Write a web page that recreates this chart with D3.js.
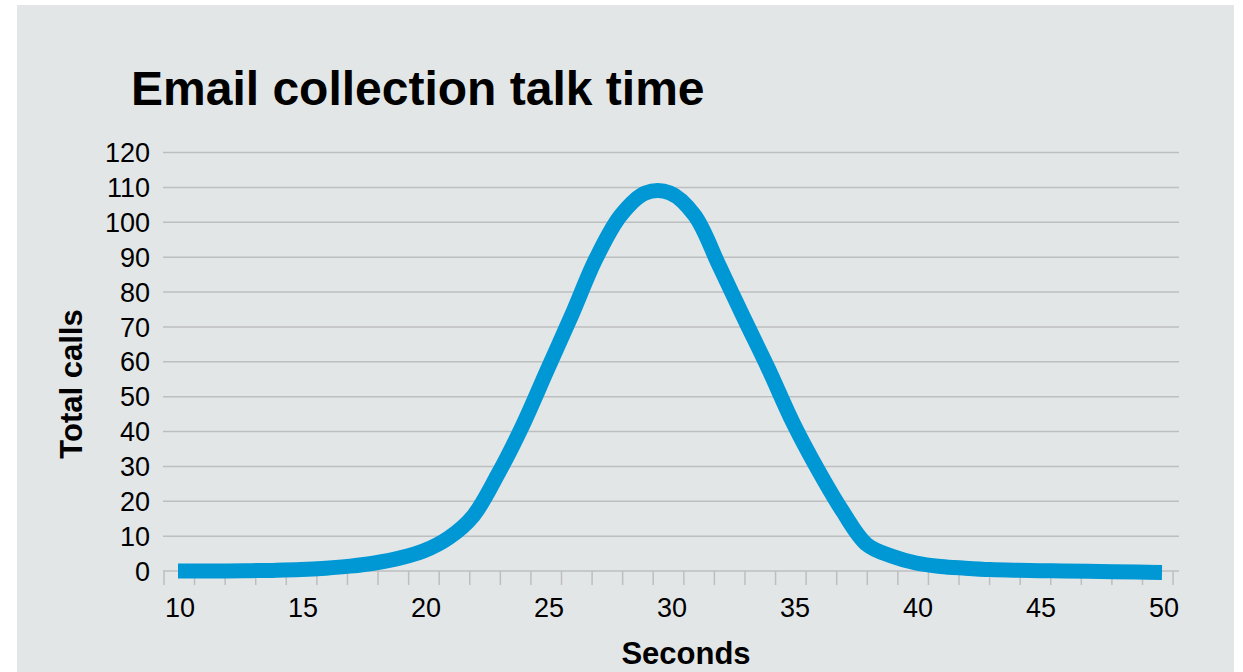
<!DOCTYPE html>
<html>

<head>
	<meta charset="utf-8">
	<script src="https://cdn.jsdelivr.net/npm/d3@7"></script>
	<style>
		body {
			margin: 0;
			background: #fff;
		}

		text {
			font-family: "Liberation Sans", Arial, sans-serif;
			fill: #000;
		}

		.grid line {
			stroke: #bcbec0;
			stroke-width: 1.5;
		}

		.line {
			fill: none;
			stroke: #0097d5;
			stroke-width: 15;
		}
	</style>
</head>

<body>
	<svg></svg>
	<script>
		// seconds of talk time
		var seconds = [10, 11, 12, 13, 14, 15, 16, 17, 18, 19, 20, 21, 22, 23, 24, 25, 26, 27, 28, 29,
			30, 31, 32, 33, 34, 35, 36, 37, 38, 39, 40, 41, 42, 43, 44, 45, 46, 47, 48, 49, 50];
		// total calls
		var calls = [0, 0, 0, 0.1, 0.2, 0.4, 0.8, 1.4, 2.3, 3.7, 5.8, 9.5, 15.8, 27.7, 41.6, 57.5, 73.3, 89.7, 102, 108.4,
			108.4, 102, 87.5, 72.6, 58, 42.5, 29.2, 17.3, 7.6, 4.3, 2.3, 1.3, 0.8, 0.4, 0.2, 0.1, 0, -0.1, -0.2, -0.3, -0.4];
		var yTicks = [0, 10, 20, 30, 40, 50, 60, 70, 80, 90, 100, 110, 120];
		var xTicks = [10, 15, 20, 25, 30, 35, 40, 45, 50];

		var width = 1243;
		var height = 672;

		var svg = d3.select('svg')
			.attr("width", width)
			.attr("height", height);

		svg.append("rect")
			.attr("x", 17)
			.attr("y", 5)
			.attr("width", 1217)
			.attr("height", height - 5)
			.attr("fill", "#e3e6e7");

		var x = d3.scaleLinear()
			.domain([10, 50])
			.range([178, 1162]);
		var y = d3.scaleLinear()
			.domain([0, 120])
			.range([571, 152.5]);

		// axis extent and minor ticks (not aligned with the labels in the original)
		var axisStart = 9.39, axisEnd = 50.69;
		var minorStart = 9.43, minorEnd = 50.45, minorCount = 34;
		var minor = d3.range(minorCount).map(i => minorStart + (minorEnd - minorStart) * i / (minorCount - 1));

		svg.append("g")
			.attr("class", "grid")
			.selectAll("line")
			.data(yTicks)
			.enter()
			.append("line")
			.attr("x1", x(axisStart))
			.attr("x2", x(axisEnd))
			.attr("y1", d => y(d))
			.attr("y2", d => y(d));

		svg.append("g")
			.attr("class", "grid")
			.selectAll("line")
			.data(minor)
			.enter()
			.append("line")
			.attr("x1", d => x(d))
			.attr("x2", d => x(d))
			.attr("y1", y(0))
			.attr("y2", y(0) + 14);

		svg.append("g")
			.selectAll("text")
			.data(yTicks)
			.enter()
			.append("text")
			.attr("x", 150)
			.attr("y", d => y(d))
			.attr("dy", "0.36em")
			.attr("text-anchor", "end")
			.attr("font-size", 27)
			.text(d => d);

		svg.append("g")
			.selectAll("text")
			.data(xTicks)
			.enter()
			.append("text")
			.attr("x", d => x(d) + 2)
			.attr("y", 617)
			.attr("text-anchor", "middle")
			.attr("font-size", 27)
			.text(d => d);

		var line = d3.line()
			.x((d, i) => x(seconds[i]))
			.y(d => y(d))
			.curve(d3.curveCatmullRom.alpha(0.5));

		svg.append("path")
			.datum(calls)
			.attr("class", "line")
			.attr("d", line);

		svg.append("text")
			.attr("x", 131)
			.attr("y", 105)
			.attr("font-size", 48)
			.attr("font-weight", "bold")
			.text("Email collection talk time");

		svg.append("text")
			.attr("transform", "translate(82,384) rotate(-90)")
			.attr("text-anchor", "middle")
			.attr("font-size", 31)
			.attr("font-weight", "bold")
			.text("Total calls");

		svg.append("text")
			.attr("x", 686)
			.attr("y", 664)
			.attr("text-anchor", "middle")
			.attr("font-size", 31)
			.attr("font-weight", "bold")
			.text("Seconds");
	</script>
</body>

</html>
